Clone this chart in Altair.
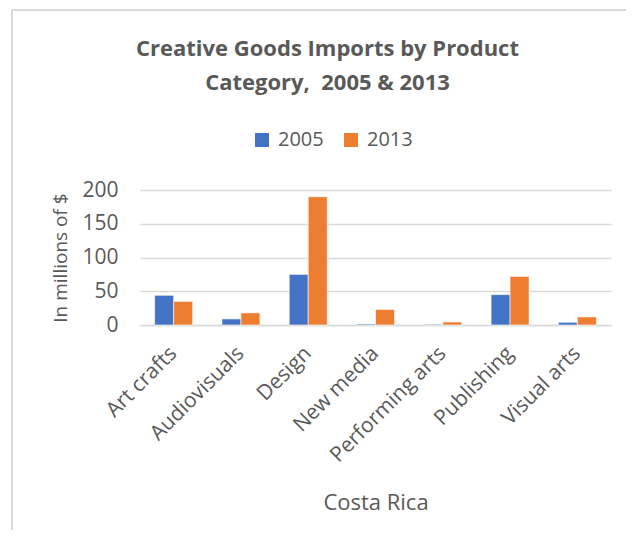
import altair as alt
import pandas as pd

categories = ["Art crafts", "Audiovisuals", "Design", "New media",
              "Performing arts", "Publishing", "Visual arts"]
values_2005 = [44, 9, 75, 1.5, 1, 45, 4]
values_2013 = [35, 18, 190, 23, 4.5, 72, 12]
years = ["2005", "2013"]
colors = ["#4472C4", "#ED7D31"]

rows = []
for c, v in zip(categories, values_2005):
    rows.append({"Category": c, "Year": "2005", "Value": v})
for c, v in zip(categories, values_2013):
    rows.append({"Category": c, "Year": "2013", "Value": v})
df = pd.DataFrame(rows)

FONT = "Open Sans"
TXT = "#595959"
GRID = "#d9d9d9"

bars = alt.Chart(df).mark_bar(stroke="white", strokeWidth=0.6).encode(
    x=alt.X("Category:N", sort=categories,
            scale=alt.Scale(paddingInner=0.435, paddingOuter=0.2175),
            axis=alt.Axis(title="Costa Rica", labelAngle=315, labelAlign="right",
                          labelBaseline="middle", labelPadding=25,
                          labelFontSize=21, labelColor=TXT, labelFont=FONT,
                          ticks=False, domainColor=GRID, domainWidth=1.5,
                          titleFontSize=22, titleFont=FONT, titleColor=TXT,
                          titleFontWeight="normal", titleX=235.5, titleY=177,
                          titleBaseline="middle", titleAlign="center")),
    xOffset=alt.XOffset("Year:N", sort=years),
    y=alt.Y("Value:Q", scale=alt.Scale(domain=[0, 200], nice=False),
            axis=alt.Axis(title="In millions of $", values=[0, 50, 100, 150, 200],
                          labelFontSize=21, labelColor=TXT, labelFont=FONT,
                          labelPadding=22, ticks=False, domain=False,
                          gridColor=GRID, gridWidth=1.5,
                          titleFontSize=19, titleFont=FONT, titleColor=TXT,
                          titleFontWeight="normal", titleX=-80, titleY=67.5,
                          titleAngle=270, titleAlign="center",
                          titleBaseline="middle")),
    color=alt.Color("Year:N", sort=years,
                    scale=alt.Scale(domain=years, range=colors),
                    legend=alt.Legend(title=None, orient="none", legendX=112,
                                      legendY=-60, direction="horizontal",
                                      symbolType="square", symbolSize=196,
                                      symbolStrokeWidth=0, labelFontSize=20,
                                      labelFont=FONT, labelColor=TXT,
                                      labelOffset=6, columnPadding=17)),
)

frame_df = pd.DataFrame({"a": [0]})
left_line = alt.Chart(frame_df).mark_rule(color=GRID, strokeWidth=2).encode(
    x=alt.value(-128), y=alt.value(-180), y2=alt.value(340))
top_line = alt.Chart(frame_df).mark_rule(color=GRID, strokeWidth=2).encode(
    x=alt.value(-128), x2=alt.value(494), y=alt.value(-180))

chart = alt.layer(bars, left_line, top_line).properties(
    width=471, height=135,
    title=alt.Title(["Creative Goods Imports by Product", "Category,\u00a0 2005 & 2013"],
                    fontSize=22, font=FONT, fontWeight="bold", color=TXT,
                    anchor="middle", dx=-48, dy=86, lineHeight=34, offset=0),
    autosize=alt.AutoSizeParams(type="none"),
    padding={"left": 132, "top": 182, "right": 15, "bottom": 207},
).configure_view(stroke=None)

chart.save("out.html", embed_options={"renderer": "svg", "actions": False})
